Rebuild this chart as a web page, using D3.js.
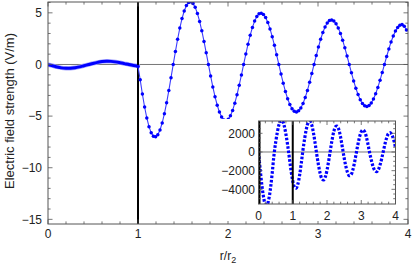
<!DOCTYPE html>
<html><head><meta charset="utf-8">
<script src="https://cdn.jsdelivr.net/npm/d3@7"></script>
<style>
html,body{margin:0;padding:0;background:#fff;}
svg{display:block;font-family:"Liberation Sans",Arial,Helvetica,sans-serif;}
</style>
</head><body>
<svg id="c" width="413" height="266"></svg>
<script>
// ---- data ----
const innerStart = 0, innerStep = 0.05;          // r/r2 sampling inside r2
const innerE = [-0.02,-0.12,-0.24,-0.33,-0.37,-0.37,-0.32,-0.23,-0.12,-0.01,
  0.10,0.20,0.28,0.31,0.30,0.25,0.17,0.08,-0.01,-0.09,-0.15];

const outerStart = 1, outerStep = 0.02445;       // r/r2 sampling outside r2
const outerE = [-0.2,-1.48,-2.87,-4.12,-5.18,-6.02,-6.62,-6.94,-7.00,-6.81,-6.35,-5.66,-4.77,-3.71,-2.53,-1.28,0,
  1.25,2.44,3.52,4.44,5.18,5.71,6.00,6.07,5.91,5.53,4.94,4.17,3.26,2.23,1.13,0,
  -1.11,-2.17,-3.12,-3.95,-4.61,-5.09,-5.37,-5.44,-5.31,-4.97,-4.45,-3.75,-2.93,-2.01,-1.02,0,
  1.01,1.96,2.84,3.59,4.20,4.65,4.90,4.97,4.85,4.55,4.07,3.44,2.69,1.85,0.94,0,
  -0.93,-1.81,-2.62,-3.32,-3.88,-4.30,-4.53,-4.60,-4.49,-4.22,-3.78,-3.20,-2.51,-1.72,-0.87,0,
  0.86,1.69,2.44,3.10,3.63,4.01,4.25,4.31,4.21,3.95,3.54,3.01,2.35,1.61,0.82,0,
  -0.81,-1.59,-2.30,-2.91,-3.42,-3.78,-4.00,-4.06,-3.97,-3.73,-3.34,-2.84,-2.22,-1.52,-0.77,0,
  0.77,1.50,2.18,2.76,3.23,3.58,3.80,3.86,3.70,3.35];

const insetStart = 0, insetStep = 0.05;
const insetE = [0,-1909,-3598,-4871,-5580,-5646,-5059,-3891,-2271,-388,
  1002,2120,2944,3362,3315,2809,1915,757,
  -595,-1993,-3102,-3761,-3874,-3427,-2486,-1175,
  259,1498,2509,3139,3290,2940,2143,1020,
  -236,-1362,-2281,-2853,-2991,-2673,-1948,-927,
  231,1333,2209,2714,2762,2344,1531,461,
  -610,-1532,-2208,-2531,-2449,-1975,-1185,-205,
  770,1605,2170,2370,2170,1605,770,
  -166,-962,-1612,-2016,-2113,-1889,-1377,-655,
  167,967,1611,1998,2065,1801,1249,498];

const xTicks = [0,1,2,3,4];
const yTicks = [5,0,-5,-10,-15];
const insetXTicks = [0,1,2,3,4];
const insetYTicks = [2000,0,-2000,-4000];
const boundaries = [1];
const insetBoundaries = [0,1];
const yTitle = "Electric field strength (V/m)";
const xTitle = "r/r", xTitleSub = "2";

// ---- drawing ----
const svg = d3.select("#c");
const BLUE = "#0000ff";
const FRAME = "#555";
const fmt = v => (v < 0 ? "\u2212" + Math.abs(v) : String(v));

function frame(g, xs, ys, xMaj, xMin, yMaj, yMin, L, l) {
  const [x0,x1] = xs.range(), [y0,y1] = ys.range(); // y0 bottom, y1 top
  const tk = g.append("g").attr("stroke", FRAME).attr("stroke-width", 0.8);
  const X = (arr, len) => arr.forEach(v => {
    const p = xs(v);
    tk.append("line").attr("x1",p).attr("x2",p).attr("y1",y0).attr("y2",y0-len);
    tk.append("line").attr("x1",p).attr("x2",p).attr("y1",y1).attr("y2",y1+len);
  });
  const Y = (arr, len) => arr.forEach(v => {
    const p = ys(v);
    tk.append("line").attr("y1",p).attr("y2",p).attr("x1",x0).attr("x2",x0+len);
    tk.append("line").attr("y1",p).attr("y2",p).attr("x1",x1).attr("x2",x1-len);
  });
  X(xMaj, L); X(xMin, l); Y(yMaj, L); Y(yMin, l);
  g.append("rect").attr("x",x0).attr("y",y1).attr("width",x1-x0).attr("height",y0-y1)
    .attr("fill","none").attr("stroke",FRAME).attr("stroke-width",1);
}

// main scales
const x = d3.scaleLinear().domain([0,4]).range([48,408]);
const y = d3.scaleLinear().domain([-15.45,6.05]).range([224,2]);

svg.append("defs").append("clipPath").attr("id","mclip")
  .append("rect").attr("x",48).attr("y",2).attr("width",360).attr("height",222);

const main = svg.append("g");
const plot = main.append("g").attr("clip-path","url(#mclip)");

// zero line
plot.append("line").attr("x1",x(0)).attr("x2",x(4)).attr("y1",y(0)).attr("y2",y(0))
  .attr("stroke","#777").attr("stroke-width",1);

// inner region thick band
const innerPts = innerE.map((v,i) => [innerStart + i*innerStep, v]);
const lineGen = d3.line().x(d => x(d[0])).y(d => y(d[1])).curve(d3.curveCatmullRom);
plot.append("path").datum(innerPts).attr("d", lineGen)
  .attr("fill","none").attr("stroke","#a8a8ff").attr("stroke-width",4.4).attr("stroke-linecap","round");
plot.append("path").datum(innerPts).attr("d", lineGen)
  .attr("fill","none").attr("stroke",BLUE).attr("stroke-width",3);

// boundary line
boundaries.forEach(b => plot.append("line").attr("x1",x(b)).attr("x2",x(b)).attr("y1",y(6.05)).attr("y2",y(-15.45))
  .attr("stroke","#000").attr("stroke-width",2));

// outer region: line + dots
const outerPts = outerE.map((v,i) => [outerStart + i*outerStep, v]);
plot.append("path").datum(outerPts).attr("d", d3.line().x(d => x(d[0])).y(d => y(d[1])))
  .attr("fill","none").attr("stroke","#3c3cff").attr("stroke-width",1.1);
plot.selectAll("circle.o").data(outerPts).join("circle").attr("class","o")
  .attr("cx", d => x(d[0])).attr("cy", d => y(d[1])).attr("r",1.75).attr("fill",BLUE);

// main frame and ticks
frame(main, x, y, xTicks, d3.range(0,4.001,0.2).filter(v => Math.abs(v-Math.round(v))>1e-6),
  yTicks, d3.range(-15,7,1).filter(v => v%5!==0), 4.5, 2.6);

main.selectAll("text.xt").data(xTicks).join("text").attr("class","xt")
  .attr("x", d => x(d)).attr("y", 238).attr("text-anchor","middle")
  .attr("font-size",12).attr("fill","#222").text(d => d);
main.selectAll("text.yt").data(yTicks).join("text").attr("class","yt")
  .attr("x", 42).attr("y", d => y(d)+4.2).attr("text-anchor","end")
  .attr("font-size",12).attr("fill","#222").text(fmt);

// axis titles
svg.append("text").attr("transform","translate(14,111) rotate(-90)")
  .attr("text-anchor","middle").attr("font-size",13).attr("fill","#222").text(yTitle);
const xt = svg.append("text").attr("x",228).attr("y",260).attr("text-anchor","middle")
  .attr("font-size",12).attr("fill","#222");
xt.append("tspan").text(xTitle);
xt.append("tspan").attr("font-size",9).attr("dy",3).text(xTitleSub);

// ---- inset ----
const xi = d3.scaleLinear().domain([0,4]).range([258.5,395.5]);
const yi = d3.scaleLinear().domain([-5570,3320]).range([204,121]);
const inset = svg.append("g");
inset.append("rect").attr("x",222).attr("y",119).attr("width",180).attr("height",102).attr("fill","#fff");
svg.select("defs").append("clipPath").attr("id","iclip")
  .append("rect").attr("x",258.5).attr("y",121).attr("width",137).attr("height",83);
const ip = inset.append("g").attr("clip-path","url(#iclip)");
ip.append("line").attr("x1",xi(0)).attr("x2",xi(4)).attr("y1",yi(0)).attr("y2",yi(0))
  .attr("stroke","#777").attr("stroke-width",1);
const insetPts = insetE.map((v,i) => [insetStart + i*insetStep, v]);
ip.append("path").datum(insetPts)
  .attr("d", d3.line().x(d => xi(d[0])).y(d => yi(d[1])).curve(d3.curveCatmullRom))
  .attr("fill","none").attr("stroke",BLUE).attr("stroke-width",3.2).attr("stroke-dasharray","2.6 1.7");
insetBoundaries.forEach(b => ip.append("line").attr("x1",xi(b)+(b===0?1:0)).attr("x2",xi(b)+(b===0?1:0))
  .attr("y1",121).attr("y2",204).attr("stroke","#000").attr("stroke-width",2));
frame(inset, xi, yi, insetXTicks, d3.range(0,4.001,0.2).filter(v => Math.abs(v-Math.round(v))>1e-6),
  insetYTicks, d3.range(-5000,3001,500).filter(v => v%2000!==0), 4, 2.3);
inset.selectAll("text.xt").data(insetXTicks).join("text").attr("class","xt")
  .attr("x", d => xi(d)).attr("y", 220).attr("text-anchor","middle")
  .attr("font-size",12).attr("fill","#222").text(d => d);
inset.selectAll("text.yt").data(insetYTicks).join("text").attr("class","yt")
  .attr("x", 255).attr("y", d => yi(d)+4.2).attr("text-anchor","end")
  .attr("font-size",12).attr("fill","#222").text(fmt);
</script>
</body></html>
